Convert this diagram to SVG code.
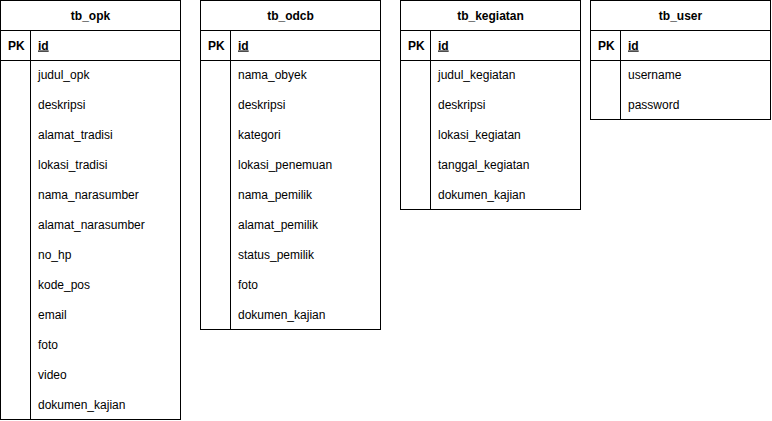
<svg xmlns="http://www.w3.org/2000/svg" width="772" height="421" viewBox="0 0 772 421">
<style>
.box{fill:#fff;stroke:#000;stroke-width:1}
.ln{stroke:#000;stroke-width:1;fill:none}
text{font-family:"Liberation Sans",Arial,sans-serif;font-size:12px;fill:#000}
.h{font-weight:bold;text-anchor:middle}
.b{font-weight:bold}
.u{font-weight:bold;text-decoration:underline}
</style>
<rect width="772" height="421" fill="#fff"/>
<g id="tb_opk" transform="translate(0.5,0.5)">
<rect class="box" x="0" y="0" width="180" height="419"/>
<line class="ln" x1="0" y1="30" x2="180" y2="30"/>
<line class="ln" x1="0" y1="60" x2="180" y2="60"/>
<line class="ln" x1="30" y1="30" x2="30" y2="419"/>
<text class="h" x="90" y="19">tb_opk</text>
<text class="b" x="7.5" y="49">PK</text>
<text class="u" x="37.5" y="49">id</text>
<text x="37.5" y="78">judul_opk</text>
<text x="37.5" y="108">deskripsi</text>
<text x="37.5" y="138">alamat_tradisi</text>
<text x="37.5" y="168">lokasi_tradisi</text>
<text x="37.5" y="198">nama_narasumber</text>
<text x="37.5" y="228">alamat_narasumber</text>
<text x="37.5" y="258">no_hp</text>
<text x="37.5" y="288">kode_pos</text>
<text x="37.5" y="318">email</text>
<text x="37.5" y="348">foto</text>
<text x="37.5" y="378">video</text>
<text x="37.5" y="408">dokumen_kajian</text>
</g>
<g id="tb_odcb" transform="translate(200.5,0.5)">
<rect class="box" x="0" y="0" width="180" height="329"/>
<line class="ln" x1="0" y1="30" x2="180" y2="30"/>
<line class="ln" x1="0" y1="60" x2="180" y2="60"/>
<line class="ln" x1="30" y1="30" x2="30" y2="329"/>
<text class="h" x="90" y="19">tb_odcb</text>
<text class="b" x="7.5" y="49">PK</text>
<text class="u" x="37.5" y="49">id</text>
<text x="37.5" y="78">nama_obyek</text>
<text x="37.5" y="108">deskripsi</text>
<text x="37.5" y="138">kategori</text>
<text x="37.5" y="168">lokasi_penemuan</text>
<text x="37.5" y="198">nama_pemilik</text>
<text x="37.5" y="228">alamat_pemilik</text>
<text x="37.5" y="258">status_pemilik</text>
<text x="37.5" y="288">foto</text>
<text x="37.5" y="318">dokumen_kajian</text>
</g>
<g id="tb_kegiatan" transform="translate(400.5,0.5)">
<rect class="box" x="0" y="0" width="180" height="209"/>
<line class="ln" x1="0" y1="30" x2="180" y2="30"/>
<line class="ln" x1="0" y1="60" x2="180" y2="60"/>
<line class="ln" x1="30" y1="30" x2="30" y2="209"/>
<text class="h" x="90" y="19">tb_kegiatan</text>
<text class="b" x="7.5" y="49">PK</text>
<text class="u" x="37.5" y="49">id</text>
<text x="37.5" y="78">judul_kegiatan</text>
<text x="37.5" y="108">deskripsi</text>
<text x="37.5" y="138">lokasi_kegiatan</text>
<text x="37.5" y="168">tanggal_kegiatan</text>
<text x="37.5" y="198">dokumen_kajian</text>
</g>
<g id="tb_user" transform="translate(590.5,0.5)">
<rect class="box" x="0" y="0" width="180" height="119"/>
<line class="ln" x1="0" y1="30" x2="180" y2="30"/>
<line class="ln" x1="0" y1="60" x2="180" y2="60"/>
<line class="ln" x1="30" y1="30" x2="30" y2="119"/>
<text class="h" x="90" y="19">tb_user</text>
<text class="b" x="7.5" y="49">PK</text>
<text class="u" x="37.5" y="49">id</text>
<text x="37.5" y="78">username</text>
<text x="37.5" y="108">password</text>
</g>
<g id="connectors"></g>
</svg>
